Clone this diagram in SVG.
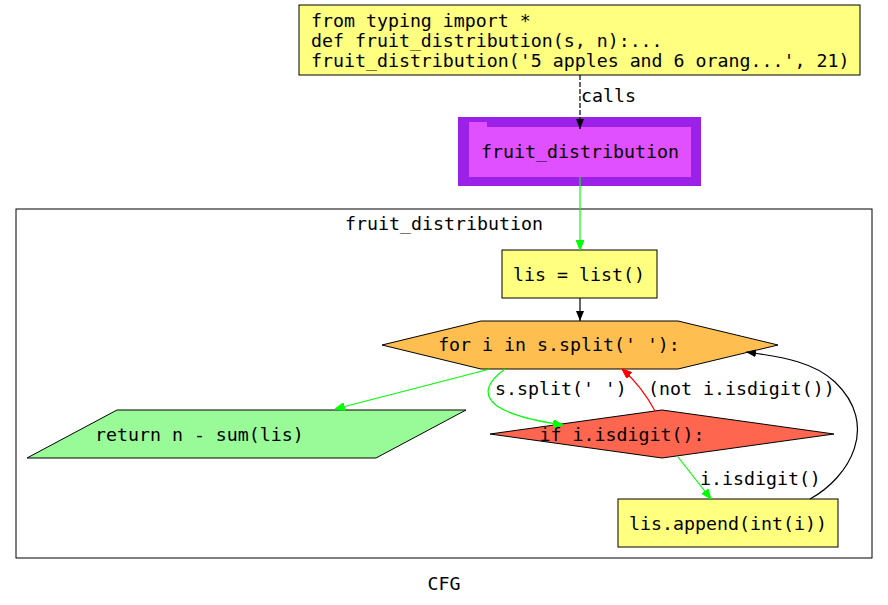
<svg xmlns="http://www.w3.org/2000/svg" width="888" height="605" viewBox="0 0 888 605">
<style>
text{font-family:"DejaVu Sans Mono","Liberation Mono",monospace;font-size:18.25px;fill:#000}
.c{text-anchor:middle}
.n{stroke:#000;stroke-width:1}
.e{fill:none;stroke-width:1.2}
</style>
<defs>
<marker id="ak" markerWidth="10" markerHeight="8" refX="10" refY="4" orient="auto" markerUnits="userSpaceOnUse"><path d="M0,0L10,4L0,8z" fill="#000"/></marker>
<marker id="ag" markerWidth="10" markerHeight="8" refX="10" refY="4" orient="auto" markerUnits="userSpaceOnUse"><path d="M0,0L10,4L0,8z" fill="#00ff00" stroke="#00ff00"/></marker>
<marker id="ar" markerWidth="10" markerHeight="8" refX="10" refY="4" orient="auto" markerUnits="userSpaceOnUse"><path d="M0,0L10,4L0,8z" fill="#ff0000" stroke="#ff0000"/></marker>
</defs>
<rect width="888" height="605" fill="#fff"/>
<g id="cluster">
<rect x="16" y="209" width="856" height="349" fill="none" stroke="#000"/>
<text class="c" x="444" y="230">fruit_distribution</text>
</g>
<g id="top">
<rect class="n" x="299" y="5" width="561" height="70" fill="#ffff80"/>
<text x="311" y="27">from typing import *</text>
<text x="311" y="47">def fruit_distribution(s, n):...</text>
<text x="311" y="67">fruit_distribution('5 apples and 6 orang...', 21)</text>
</g>
<g id="func">
<rect x="458" y="117" width="243" height="69" fill="#9b20e8"/>
<path d="M469,122H487V127H691V177H469Z" fill="#e050fe"/>
<text class="c" x="580" y="158">fruit_distribution</text>
</g>
<g id="lis">
<rect class="n" x="502" y="250" width="155" height="48" fill="#ffff80"/>
<text class="c" x="579" y="281">lis = list()</text>
</g>
<g id="for">
<path class="n" d="M382,345L481,321H678L778,345L678,369H481Z" fill="#ffbe50"/>
<text class="c" x="559" y="351">for i in s.split(' '):</text>
</g>
<g id="ret">
<path class="n" d="M27,458L117,410H466L376,458Z" fill="#98fb98"/>
<text x="95" y="441">return n - sum(lis)</text>
</g>
<g id="if">
<path class="n" d="M490,434L662,410L834,434L662,458Z" fill="#ff6650"/>
<text class="c" x="622" y="441">if i.isdigit():</text>
</g>
<g id="append">
<rect class="n" x="618" y="499" width="220" height="48" fill="#ffff80"/>
<text class="c" x="728" y="530">lis.append(int(i))</text>
</g>
<g id="connectors">
<path class="e" d="M580,75V129" stroke="#000" stroke-dasharray="5,2" marker-end="url(#ak)"/>
<text x="581" y="102">calls</text>
<path class="e" d="M580,177V250" stroke="#00ff00" marker-end="url(#ag)"/>
<path class="e" d="M580,298V321" stroke="#000" marker-end="url(#ak)"/>
<path class="e" d="M490,369L335,409" stroke="#00ff00" marker-end="url(#ag)"/>
<path class="e" d="M505,369C490,380 480,393 497,406C512,416 535,421 563,425" stroke="#00ff00" marker-end="url(#ag)"/>
<text x="495" y="395">s.split(' ')</text>
<path class="e" d="M655,411C647,396 638,383 622,369" stroke="#ff0000" marker-end="url(#ar)"/>
<text x="648" y="395">(not i.isdigit())</text>
<path class="e" d="M678,457L711,499" stroke="#00ff00" marker-end="url(#ag)"/>
<text x="700" y="485">i.isdigit()</text>
<path class="e" d="M810,499C850,477 880,425 835,382C815,363 785,357 746,352" stroke="#000" marker-end="url(#ak)"/>
</g>
<text class="c" x="444" y="590">CFG</text>
</svg>
